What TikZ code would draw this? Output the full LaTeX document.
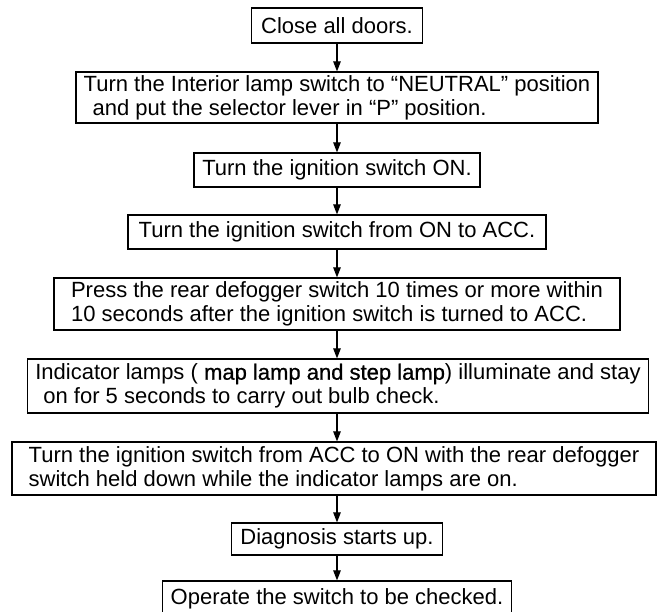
\documentclass[tikz,border=0pt]{standalone}
\usepackage{fontspec}
\setmainfont{Liberation Sans}
\newfontfamily\heavyfont[FakeBold=0.8]{Liberation Sans}
\usetikzlibrary{arrows.meta}

\tikzset{
  stepbox/.style={draw, line width=1.2pt, inner sep=0pt, align=left,
    font=\fontsize{22}{24}\selectfont},
}

\begin{document}
\begin{tikzpicture}[>={Triangle[length=10pt,width=7.5pt]}, x=1pt, y=-1pt, line width=1.2pt]
  \useasboundingbox (0,0) rectangle (657,612);

  % Pasos del procedimiento
  \node[stepbox, minimum width=171pt, minimum height=35pt] (doors) at (337,25.5) {Close all doors.};
  \node[stepbox, minimum width=522pt, minimum height=51pt] (neutral) at (337,97.5)
    {Turn the Interior lamp switch to “NEUTRAL” position\\\hspace*{9pt}and put the selector lever in “P” position.};
  \node[stepbox, minimum width=286pt, minimum height=34pt] (ignon) at (337,170) {Turn the ignition switch ON.};
  \node[stepbox, minimum width=418pt, minimum height=34pt] (onacc) at (337,232) {Turn the ignition switch from ON to ACC.};
  \node[stepbox, minimum width=566pt, minimum height=52pt] (defog) at (337,304)
    {Press the rear defogger switch 10 times or more within\\10 seconds after the ignition switch is turned to ACC.};
  \node[stepbox, minimum width=621pt, minimum height=54pt] (bulbs) at (338,386)
    {Indicator lamps ( {\heavyfont map lamp and step lamp}) illuminate and stay\\\hspace*{8pt}on for 5 seconds to carry out bulb check.};
  \node[stepbox, minimum width=644pt, minimum height=53pt] (accon) at (334,468.5)
    {Turn the ignition switch from ACC to ON with the rear defogger\\switch held down while the indicator lamps are on.};
  \node[stepbox, minimum width=211pt, minimum height=32pt] (diag) at (337,539) {Diagnosis starts up.};
  \node[stepbox, minimum width=349pt, minimum height=36pt] (operate) at (337,599) {Operate the switch to be checked.};

  % Flechas entre pasos
  \foreach \a/\b in {doors/neutral, neutral/ignon, ignon/onacc, onacc/defog,
                     defog/bulbs, bulbs/accon, accon/diag, diag/operate}
    \draw[->] (\a.south -| doors) -- (\b.north -| doors);
\end{tikzpicture}
\end{document}
